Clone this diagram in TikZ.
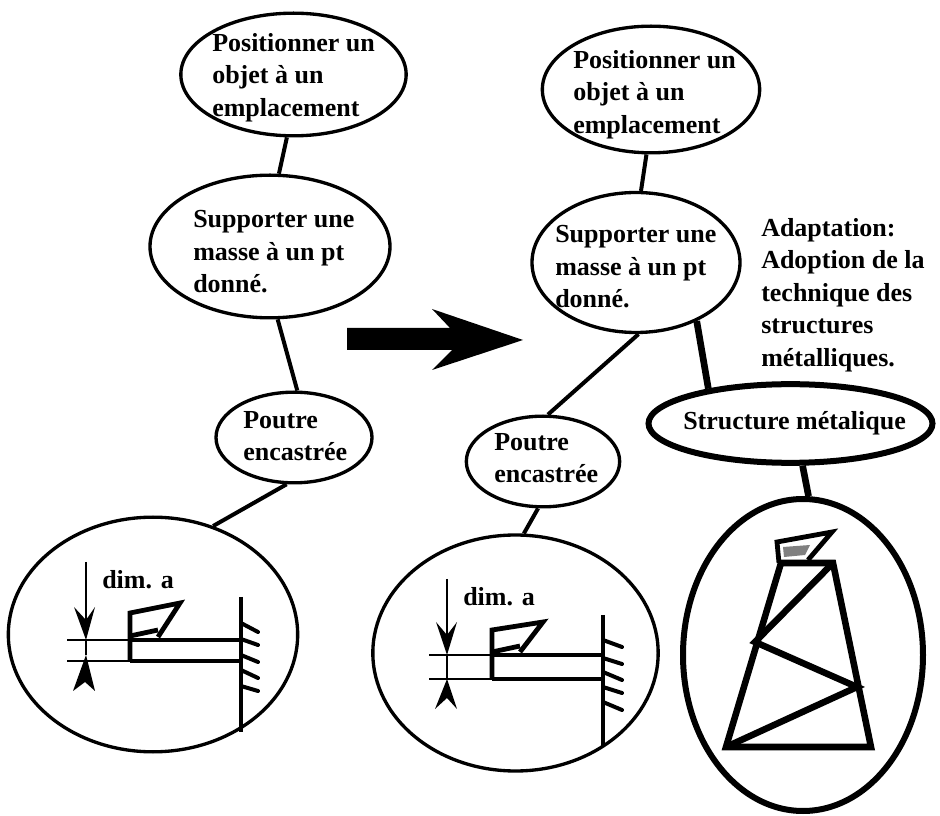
\documentclass[tikz,border=0pt]{standalone}
\usepackage{fontspec}
\setmainfont{Liberation Serif}
\usetikzlibrary{shapes.geometric}
\usetikzlibrary{arrows.meta,arrows}
\tikzset{
  bubble/.style={draw, ellipse, line width=2.5pt, inner sep=0pt},
  thickbubble/.style={bubble, line width=4.5pt},
  bubbletext/.style={align=left, inner sep=0pt, anchor=west, font=\fontsize{19.5pt}{24.4pt}\selectfont\bfseries},
  tie/.style={line width=3pt},
  thicktie/.style={line width=5pt},
  part/.style={line width=3.6pt, line join=miter},
  thinpart/.style={line width=2.2pt},
  hatch/.style={line width=3pt, line cap=round},
  strut/.style={line width=4.9pt, line join=miter},
}
\begin{document}
\begin{tikzpicture}[x=0.75pt,y=-0.75pt]
    \useasboundingbox (0,0) rectangle (940,816);
    % Left tree
    \node[bubble, minimum width=169pt, minimum height=92pt] (posL) at (293.5,74.5) {};
    \node[bubble, minimum width=180pt, minimum height=107pt] (supL) at (270,246.5) {};
    \node[bubble, minimum width=117pt, minimum height=68pt] (poutL) at (294,437.5) {};
    \node[bubble, minimum width=217pt, minimum height=176pt] (detL) at (153,634.5) {};
    \node[bubbletext] (posLtext) at (212,77.5) {Positionner un\\objet à un\\emplacement};
    \node[bubbletext] (supLtext) at (193,252) {Supporter une\\masse à un pt\\donné.};
    \node[bubbletext] (poutLtext) at (243,436) {Poutre\\encastrée};
    % Right tree
    \node[bubble, minimum width=163pt, minimum height=95pt] (posR) at (651,89.5) {};
    \node[bubble, minimum width=156pt, minimum height=105pt] (supR) at (636,262.5) {};
    \node[bubble, minimum width=115pt, minimum height=68pt] (poutR) at (543,461.5) {};
    \node[bubble, minimum width=214pt, minimum height=177pt] (detR) at (515.5,653) {};
    \node[thickbubble, minimum width=213pt, minimum height=59pt] (struct) at (790.5,423.5) {};
    \node[thickbubble, minimum width=180pt, minimum height=234pt] (tower) at (803,655) {};
    \node[bubbletext] (posRtext) at (573,94.5) {Positionner un\\objet à un\\emplacement};
    \node[bubbletext] (supRtext) at (555,267) {Supporter une\\masse à un pt\\donné.};
    \node[bubbletext] (poutRtext) at (494,458) {Poutre\\encastrée};
    \node[bubbletext] (structtext) at (683,423) {Structure métalique};
    \node[bubbletext] (adapt) at (761,295) {Adaptation:\\Adoption de la\\technique des\\structures\\métalliques.};
    % Connections
    \draw[tie] (posL.-96) -- (supL.83);
    \draw[tie] (supL.-84) -- (poutL.86);
    \draw[tie] (poutL.-99) -- (detL.61);
    \draw[tie] (posR.-94) -- (supR.86);
    \draw[tie] (supR.-88) -- (poutR.84);
    \draw[tie] (poutR.-96) -- (detR.86);
    \draw[thicktie] (supR.-44) -- (struct.157);
    \draw[thicktie] (struct.-74) -- (tower.88);
    % Big arrow
    \fill (347,328) -- (450,328) -- (432,309) -- (523,340) -- (432,370) -- (452,350) -- (347,350) -- cycle;
    % Left beam
    \node[bubbletext] (dimL) at (102,580) {dim. a};
    \draw[thinpart] (86,562) -- (86,625);
    \fill (74,607) -- (86,640) -- (95,607) -- (86,620) -- cycle;
    \fill (73,691) -- (86,655) -- (95,691) -- (85,682) -- cycle;
    \draw[thinpart] (86,640) -- (86,655);
    \draw[thinpart] (67,640) -- (130,640);
    \draw[part] (130,640) -- (241,640);
    \draw[thinpart] (67,661) -- (130,661);
    \draw[part] (130,661) -- (241,661);
    \draw[part] (130,661) -- (130,613) -- (180,603) -- (158,637);
    \draw[part] (130,636) -- (158,630);
    \draw[part] (241,597) -- (241,732);
    \foreach \ya/\yb in {623/632,639/645,655/662,670/678,686/691}
      \draw[hatch] (241,\ya) -- (258,\yb);
    % Right beam
    \node[bubbletext] (dimR) at (463,597) {dim. a};
    \draw[thinpart] (447,579) -- (447,640);
    \fill (436,622) -- (447,655) -- (457,622) -- (447,635) -- cycle;
    \fill (435,709) -- (447,679) -- (457,709) -- (447,698) -- cycle;
    \draw[thinpart] (447,655) -- (447,679);
    \draw[thinpart] (429,655) -- (492,655);
    \draw[part] (492,655) -- (603,655);
    \draw[thinpart] (429,679) -- (492,679);
    \draw[part] (492,679) -- (603,679);
    \draw[part] (492,679) -- (492,630) -- (543,622) -- (520,652);
    \draw[part] (492,652) -- (520,646);
    \draw[part] (603,615) -- (603,747);
    \foreach \ya/\yb in {640/647,658/664,672/680,687/693,702/710}
      \draw[hatch] (603,\ya) -- (622,\yb);
    % Tower
    \draw[strut] (726,747) -- (781,563) -- (833,563) -- (871,747) -- cycle;
    \draw[strut] (833,563) -- (755,642) -- (857,687) -- (726,747);
    \draw[part] (808,560) -- (832,532) -- (777,542) -- (779,563);
    \fill[gray] (783,547) -- (810,545) -- (805,555) -- (784,557) -- cycle;
\end{tikzpicture}
\end{document}
